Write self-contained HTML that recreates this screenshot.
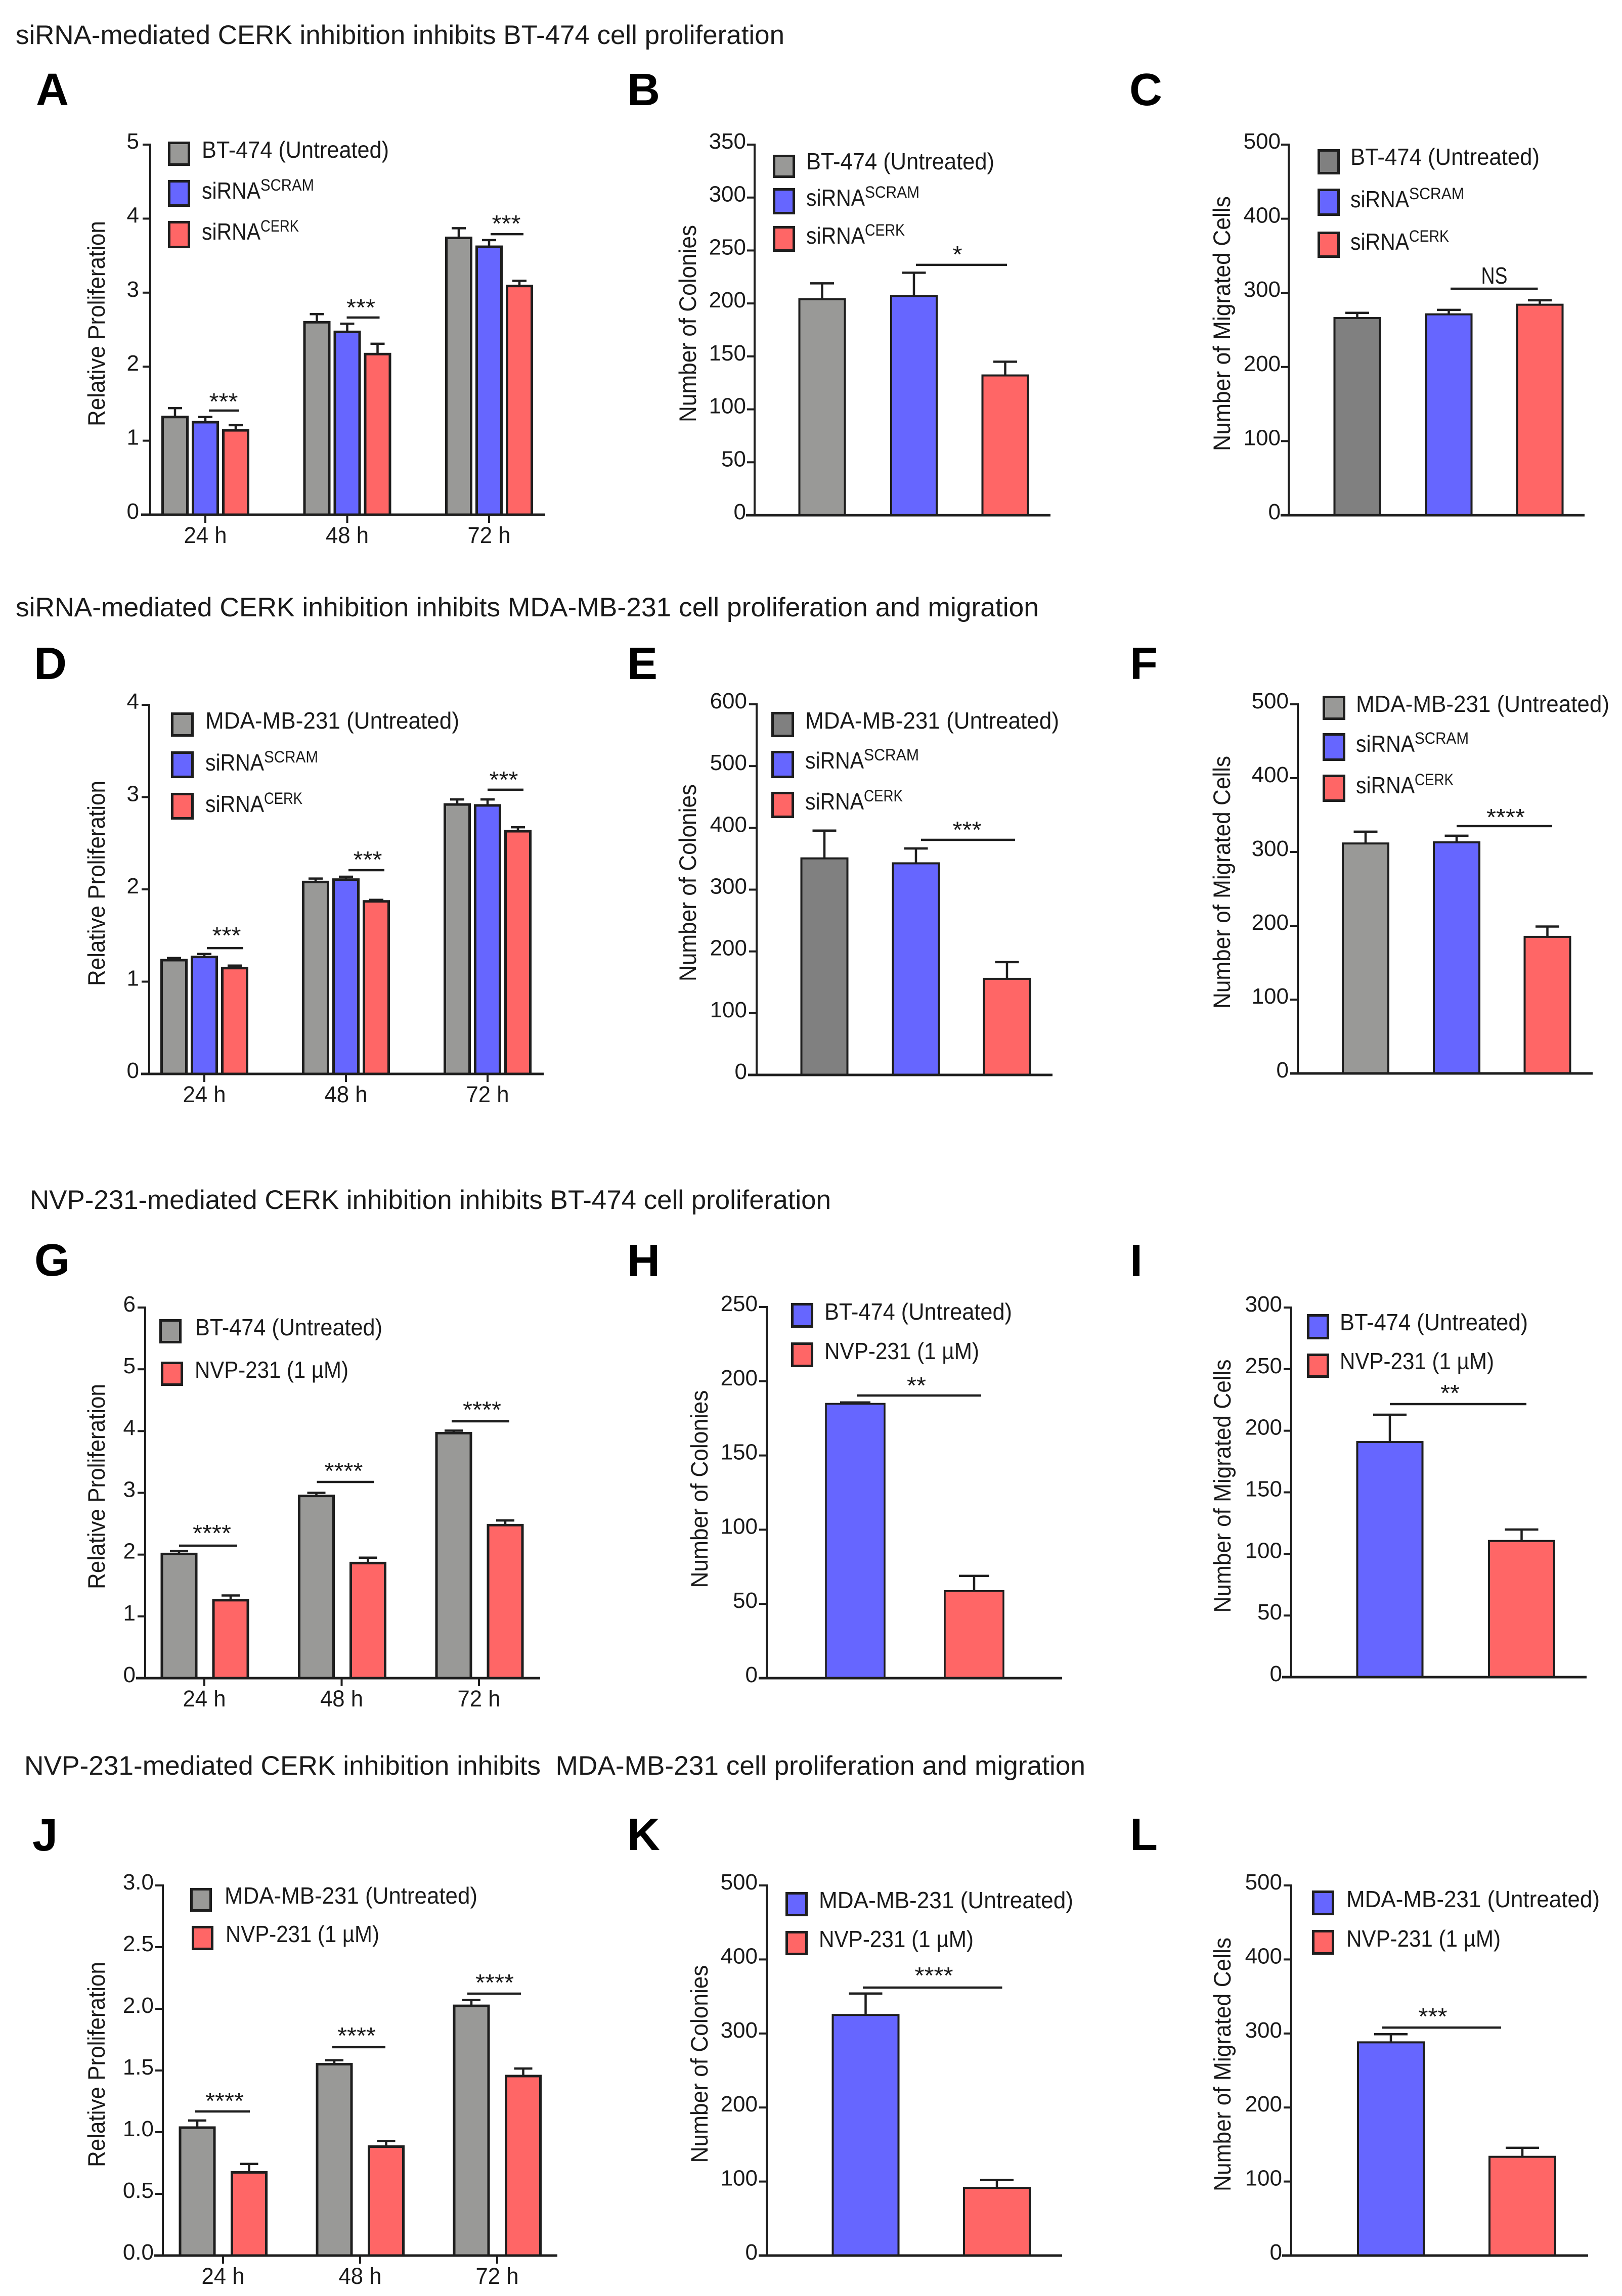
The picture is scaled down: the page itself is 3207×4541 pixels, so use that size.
<!DOCTYPE html>
<html lang="en">
<head>
<meta charset="utf-8">
<title>CERK inhibition figure</title>
<style>
html,body{margin:0;padding:0;background:#fff;}
svg{display:block;}
text{font-family:"Liberation Sans",sans-serif;fill:#1a1a1a;}
.sec{font-size:53px;}
.let{font-size:90px;font-weight:bold;fill:#000;}
</style>
</head>
<body>
<svg id="figure" xmlns="http://www.w3.org/2000/svg" width="3207" height="4541" viewBox="0 0 3207 4541">
<rect width="3207" height="4541" fill="#fff"/>
<text class="sec" x="31" y="87" textLength="1520" lengthAdjust="spacingAndGlyphs">siRNA-mediated CERK inhibition inhibits BT-474 cell proliferation</text>
<text class="sec" x="31" y="1219" textLength="2023" lengthAdjust="spacingAndGlyphs">siRNA-mediated CERK inhibition inhibits MDA-MB-231 cell proliferation and migration</text>
<text class="sec" x="59" y="2391" textLength="1584" lengthAdjust="spacingAndGlyphs">NVP-231-mediated CERK inhibition inhibits BT-474 cell proliferation</text>
<text class="sec" x="48" y="3510" textLength="2098" lengthAdjust="spacingAndGlyphs" xml:space="preserve">NVP-231-mediated CERK inhibition inhibits  MDA-MB-231 cell proliferation and migration</text>
<text class="let" x="71" y="208">A</text>
<text class="let" x="1240" y="208">B</text>
<text class="let" x="2233" y="208">C</text>
<text class="let" x="67" y="1343">D</text>
<text class="let" x="1240" y="1343">E</text>
<text class="let" x="2234" y="1343">F</text>
<text class="let" x="68" y="2523">G</text>
<text class="let" x="1240" y="2524">H</text>
<text class="let" x="2234" y="2524">I</text>
<text class="let" x="64" y="3660">J</text>
<text class="let" x="1240" y="3659">K</text>
<text class="let" x="2234" y="3659">L</text>
</svg>
<script>
// ---------- DATA ----------
const hours = ['24 h', '48 h', '72 h'];

const panelA_ticks = ['0', '1', '2', '3', '4', '5'];
const panelA_series = ['BT-474 (Untreated)', 'siRNA^SCRAM', 'siRNA^CERK'];
const panelA_means = [[1.32, 2.60, 3.74], [1.25, 2.47, 3.62], [1.14, 2.17, 3.09]];
const panelA_errors = [[0.12, 0.11, 0.13], [0.07, 0.11, 0.09], [0.07, 0.14, 0.07]];
const panelA_sigValues = [1.407, 2.664, 3.79];
const panelA_sigLabels = ['***', '***', '***'];

const panelB_ticks = ['0', '50', '100', '150', '200', '250', '300', '350'];
const panelB_series = ['BT-474 (Untreated)', 'siRNA^SCRAM', 'siRNA^CERK'];
const panelB_means = [[204], [207], [132]];
const panelB_errors = [[15], [22], [13]];
const panelB_sigValues = [236.4];
const panelB_sigLabels = ['*'];

const panelC_ticks = ['0', '100', '200', '300', '400', '500'];
const panelC_series = ['BT-474 (Untreated)', 'siRNA^SCRAM', 'siRNA^CERK'];
const panelC_means = [[266], [271], [284]];
const panelC_errors = [[7], [6], [6]];
const panelC_sigValues = [305.6];
const panelC_sigLabels = ['NS'];

const panelD_ticks = ['0', '1', '2', '3', '4'];
const panelD_series = ['MDA-MB-231 (Untreated)', 'siRNA^SCRAM', 'siRNA^CERK'];
const panelD_means = [[1.233, 2.08, 2.92], [1.268, 2.106, 2.91], [1.147, 1.87, 2.63]];
const panelD_errors = [[0.023, 0.037, 0.055], [0.032, 0.031, 0.065], [0.027, 0.016, 0.043]];
const panelD_sigValues = [1.364, 2.208, 3.08];
const panelD_sigLabels = ['***', '***', '***'];

const panelE_ticks = ['0', '100', '200', '300', '400', '500', '600'];
const panelE_series = ['MDA-MB-231 (Untreated)', 'siRNA^SCRAM', 'siRNA^CERK'];
const panelE_means = [[350.6], [342.6], [155.6]];
const panelE_errors = [[45], [24], [27]];
const panelE_sigValues = [380.6];
const panelE_sigLabels = ['***'];

const panelF_ticks = ['0', '100', '200', '300', '400', '500'];
const panelF_series = ['MDA-MB-231 (Untreated)', 'siRNA^SCRAM', 'siRNA^CERK'];
const panelF_means = [[311.5], [313], [185]];
const panelF_errors = [[16], [9], [14]];
const panelF_sigValues = [335];
const panelF_sigLabels = ['****'];

const panelG_ticks = ['0', '1', '2', '3', '4', '5', '6'];
const panelG_series = ['BT-474 (Untreated)', 'NVP-231 (1 µM)'];
const panelG_means = [[2.01, 2.95, 3.966], [1.262, 1.863, 2.477]];
const panelG_errors = [[0.046, 0.05, 0.041], [0.076, 0.087, 0.076]];
const panelG_sigValues = [2.145, 3.176, 4.158];
const panelG_sigLabels = ['****', '****', '****'];

const panelH_ticks = ['0', '50', '100', '150', '200', '250'];
const panelH_series = ['BT-474 (Untreated)', 'NVP-231 (1 µM)'];
const panelH_means = [[184.8], [58.7]];
const panelH_errors = [[0.9], [10.2]];
const panelH_sigValues = [190.4];
const panelH_sigLabels = ['**'];

const panelI_ticks = ['0', '50', '100', '150', '200', '250', '300'];
const panelI_series = ['BT-474 (Untreated)', 'NVP-231 (1 µM)'];
const panelI_means = [[190.8], [110.5]];
const panelI_errors = [[22.2], [9.3]];
const panelI_sigValues = [221.6];
const panelI_sigLabels = ['**'];

const panelJ_ticks = ['0.0', '0.5', '1.0', '1.5', '2.0', '2.5', '3.0'];
const panelJ_series = ['MDA-MB-231 (Untreated)', 'NVP-231 (1 µM)'];
const panelJ_means = [[1.037, 1.551, 2.024], [0.674, 0.883, 1.455]];
const panelJ_errors = [[0.058, 0.032, 0.047], [0.069, 0.046, 0.061]];
const panelJ_sigValues = [1.168, 1.689, 2.123];
const panelJ_sigLabels = ['****', '****', '****'];

const panelK_ticks = ['0', '100', '200', '300', '400', '500'];
const panelK_series = ['MDA-MB-231 (Untreated)', 'NVP-231 (1 µM)'];
const panelK_means = [[325], [91.5]];
const panelK_errors = [[29], [10.5]];
const panelK_sigValues = [362];
const panelK_sigLabels = ['****'];

const panelL_ticks = ['0', '100', '200', '300', '400', '500'];
const panelL_series = ['MDA-MB-231 (Untreated)', 'NVP-231 (1 µM)'];
const panelL_means = [[288], [133.4]];
const panelL_errors = [[11], [12.2]];
const panelL_sigValues = [308];
const panelL_sigLabels = ['***'];

// ---------- STYLE ----------
const GRAY = '#999997', DGRAY = '#808080', BLUE = '#6666ff', RED = '#ff6666', INK = '#1e1e1e';
const root = document.getElementById('figure');

function add(parent, tag, attrs, txt) {
  const el = document.createElementNS('http://www.w3.org/2000/svg', tag);
  for (const k in attrs) el.setAttribute(k, attrs[k]);
  if (txt !== undefined) el.textContent = txt;
  parent.appendChild(el);
  return el;
}

function renderPanel(id, d, L) {
  const g = add(root, 'g', {});
  
  

  const maxV = parseFloat(d.ticks[d.ticks.length - 1]);
  const yScale = v => L.zero - v * (L.zero - L.top) / maxV;
  const xGroup = i => L.groupX0 + i * L.groupStep;

  // y-axis title
  const yt = add(g, 'text', {x: L.ylabelX + 16, y: L.ylabelY, 'font-size': 47, 'text-anchor': 'middle',
    textLength: L.ylabelLen, lengthAdjust: 'spacingAndGlyphs',
    transform: 'rotate(-90 ' + (L.ylabelX + 16) + ' ' + L.ylabelY + ')'}, L.ylabel);
  
  

  // bars and error bars
  d.means.forEach((seriesVals, s) => {
    seriesVals.forEach((v, c) => {
      const cx = xGroup(c) + L.offsets[s];
      const yTop = yScale(v);
      const yErr = yScale(v + d.errors[s][c]);
      const err = add(g, 'path', {d: 'M' + cx + ' ' + yTop + 'V' + yErr + 'M' + (cx - L.cap / 2) + ' ' + yErr + 'H' + (cx + L.cap / 2),
        fill: 'none', stroke: INK, 'stroke-width': 4.5});
      
      
      const bar = add(g, 'rect', {x: cx - L.barW / 2, y: yTop, width: L.barW, height: L.zero - yTop,
        fill: L.colors[s], stroke: INK, 'stroke-width': L.barStroke});
      
      
    });
  });

  // y axis and ticks
  const yAxis = add(g, 'line', {x1: L.axisX, x2: L.axisX, y1: L.top - 2, y2: L.zero, stroke: INK, 'stroke-width': 4});
  
  
  d.ticks.forEach(t => {
    const y = yScale(parseFloat(t));
    const tk = add(g, 'line', {x1: L.axisX - 15, x2: L.axisX, y1: y, y2: y, stroke: INK, 'stroke-width': 4});
    
    
    const lb = add(g, 'text', {x: L.tickRight, y: y + 8, 'font-size': 44, 'text-anchor': 'end'}, t);
    
    
  });

  // x axis, ticks
  const xAxis = add(g, 'line', {x1: L.xStart, x2: L.xEnd, y1: L.zero, y2: L.zero, stroke: INK, 'stroke-width': 5});
  
  
  if (d.categories) {
    d.categories.forEach((c, i) => {
      const x = xGroup(i);
      const tk = add(g, 'line', {x1: x, x2: x, y1: L.zero, y2: L.zero + 16, stroke: INK, 'stroke-width': 4});
      
      
      const lb = add(g, 'text', {x: x, y: L.zero + 56, 'font-size': 45, 'text-anchor': 'middle', textLength: 85, lengthAdjust: 'spacingAndGlyphs'}, c);
      
      
    });
  }

  // significance brackets
  d.sigValues.forEach((v, i) => {
    const b = L.brackets[i];
    const x0 = xGroup(i);
    const y = yScale(v);
    const ln = add(g, 'line', {x1: x0 + b[0], x2: x0 + b[1], y1: y, y2: y, stroke: INK, 'stroke-width': 4.5});
    
    
    const label = d.sigLabels[i];
    let tx;
    if (label === 'NS') {
      tx = add(g, 'text', {x: x0 + b[2], y: y - 10, 'font-size': 46, 'text-anchor': 'middle', textLength: 52, lengthAdjust: 'spacingAndGlyphs'}, label);
    } else {
      tx = add(g, 'text', {x: x0 + b[2], y: y - b[3] + 22, 'font-size': 46, 'text-anchor': 'middle',
        textLength: label.length * 19, lengthAdjust: 'spacingAndGlyphs'}, label);
    }
    
    
  });

  // legend
  d.series.forEach((name, i) => {
    const r = L.legend[i];
    const item = add(g, 'g', {});
    
    
    const sw = add(item, 'rect', {x: r.sx + 2.5, y: r.sy + 2.5, width: L.swatchW - 5, height: r.sh - 5,
      fill: L.colors[i], stroke: INK, 'stroke-width': 5});
    
    
    const parts = name.split('^');
    const t1 = add(item, 'text', {x: r.tx, y: r.base, 'font-size': 46,
      textLength: parts[1] ? 116 : r.w, lengthAdjust: 'spacingAndGlyphs'}, parts[0]);
    
    
    if (parts[1]) {
      const t2 = add(item, 'text', {x: r.tx + 116, y: r.base - 16, 'font-size': 32,
        textLength: r.w, lengthAdjust: 'spacingAndGlyphs'}, parts[1]);
      
      
    }
  });
}

const RP = 'Relative Proliferation', NC = 'Number of Colonies', NM = 'Number of Migrated Cells';

renderPanel('a',
  {categories: hours, ticks: panelA_ticks, series: panelA_series, means: panelA_means, errors: panelA_errors, sigValues: panelA_sigValues, sigLabels: panelA_sigLabels},
  {axisX: 297, top: 286, zero: 1018, xStart: 279, xEnd: 1078, tickRight: 275, groupX0: 406, groupStep: 280.5,
   offsets: [-60, 0, 60], barW: 49, barStroke: 5, cap: 28, colors: [GRAY, BLUE, RED],
   ylabel: RP, ylabelX: 191, ylabelY: 640, ylabelLen: 406,
   brackets: [[7, 67, 36, 24], [-1, 64, 27, 26], [3, 68, 34, 27]], swatchW: 44,
   legend: [{sx: 332, sy: 280, sh: 48, tx: 399, base: 312, w: 370}, {sx: 332, sy: 356, sh: 53, tx: 399, base: 393, w: 106}, {sx: 332, sy: 437, sh: 54, tx: 399, base: 474, w: 76}]});

renderPanel('b',
  {ticks: panelB_ticks, series: panelB_series, means: panelB_means, errors: panelB_errors, sigValues: panelB_sigValues, sigLabels: panelB_sigLabels},
  {axisX: 1492, top: 286, zero: 1019, xStart: 1475, xEnd: 2077, tickRight: 1475, groupX0: 1807, groupStep: 0,
   offsets: [-181.5, 0, 180.5], barW: 90, barStroke: 4, cap: 47, colors: [GRAY, BLUE, RED],
   ylabel: NC, ylabelX: 1360, ylabelY: 640, ylabelLen: 390,
   brackets: [[4, 184, 86, 27]], swatchW: 44,
   legend: [{sx: 1528, sy: 306, sh: 46, tx: 1594, base: 335, w: 372}, {sx: 1528, sy: 372, sh: 52, tx: 1594, base: 407, w: 108}, {sx: 1528, sy: 447, sh: 51, tx: 1594, base: 482, w: 79}]});

renderPanel('c',
  {ticks: panelC_ticks, series: panelC_series, means: panelC_means, errors: panelC_errors, sigValues: panelC_sigValues, sigLabels: panelC_sigLabels},
  {axisX: 2548, top: 286, zero: 1019, xStart: 2532, xEnd: 3133, tickRight: 2532, groupX0: 2864.5, groupStep: 0,
   offsets: [-181, 0, 180], barW: 90, barStroke: 4, cap: 47, colors: [DGRAY, BLUE, RED],
   ylabel: NM, ylabelX: 2416, ylabelY: 640, ylabelLen: 504,
   brackets: [[3.5, 176, 90, 25]], swatchW: 44,
   legend: [{sx: 2605, sy: 295, sh: 50, tx: 2670, base: 326, w: 374}, {sx: 2605, sy: 373, sh: 54, tx: 2670, base: 410, w: 109}, {sx: 2605, sy: 458, sh: 52, tx: 2670, base: 494, w: 79}]});

renderPanel('d',
  {categories: hours, ticks: panelD_ticks, series: panelD_series, means: panelD_means, errors: panelD_errors, sigValues: panelD_sigValues, sigLabels: panelD_sigLabels},
  {axisX: 295, top: 1394, zero: 2124, xStart: 279, xEnd: 1075, tickRight: 275, groupX0: 404, groupStep: 280,
   offsets: [-60, 0, 60], barW: 49, barStroke: 5, cap: 28, colors: [GRAY, BLUE, RED],
   ylabel: RP, ylabelX: 191, ylabelY: 1747, ylabelLen: 406,
   brackets: [[5, 77, 44, 31], [5, 76, 43, 27], [0, 71, 32, 26]], swatchW: 45,
   legend: [{sx: 338, sy: 1409, sh: 48, tx: 406, base: 1441, w: 502}, {sx: 338, sy: 1486, sh: 53, tx: 406, base: 1524, w: 107}, {sx: 338, sy: 1568, sh: 53, tx: 406, base: 1606, w: 76}]});

renderPanel('e',
  {ticks: panelE_ticks, series: panelE_series, means: panelE_means, errors: panelE_errors, sigValues: panelE_sigValues, sigLabels: panelE_sigLabels},
  {axisX: 1496, top: 1393, zero: 2126, xStart: 1479, xEnd: 2081, tickRight: 1477, groupX0: 1811, groupStep: 0,
   offsets: [-181, 0, 180], barW: 91, barStroke: 4, cap: 47, colors: [DGRAY, BLUE, RED],
   ylabel: NC, ylabelX: 1360, ylabelY: 1746, ylabelLen: 390,
   brackets: [[10, 196, 101, 26]], swatchW: 45,
   legend: [{sx: 1525, sy: 1408, sh: 50, tx: 1592, base: 1441, w: 502}, {sx: 1525, sy: 1485, sh: 54, tx: 1592, base: 1520, w: 109}, {sx: 1525, sy: 1566, sh: 52, tx: 1592, base: 1601, w: 77}]});

renderPanel('f',
  {ticks: panelF_ticks, series: panelF_series, means: panelF_means, errors: panelF_errors, sigValues: panelF_sigValues, sigLabels: panelF_sigLabels},
  {axisX: 2566, top: 1393, zero: 2123, xStart: 2551, xEnd: 3149, tickRight: 2548, groupX0: 2880, groupStep: 0,
   offsets: [-180, 0, 179.5], barW: 90, barStroke: 4, cap: 47, colors: [GRAY, BLUE, RED],
   ylabel: NM, ylabelX: 2416, ylabelY: 1745, ylabelLen: 500,
   brackets: [[0, 189, 97, 24]], swatchW: 45,
   legend: [{sx: 2615, sy: 1376, sh: 48, tx: 2681, base: 1408, w: 501}, {sx: 2615, sy: 1450, sh: 55, tx: 2681, base: 1487, w: 107}, {sx: 2615, sy: 1532, sh: 54, tx: 2681, base: 1569, w: 77}]});

renderPanel('g',
  {categories: hours, ticks: panelG_ticks, series: panelG_series, means: panelG_means, errors: panelG_errors, sigValues: panelG_sigValues, sigLabels: panelG_sigLabels},
  {axisX: 287, top: 2586, zero: 3319, xStart: 269, xEnd: 1068, tickRight: 268, groupX0: 404, groupStep: 271.5,
   offsets: [-50, 52], barW: 68, barStroke: 5, cap: 36, colors: [GRAY, RED],
   ylabel: RP, ylabelX: 191, ylabelY: 2940, ylabelLen: 406,
   brackets: [[-50, 65, 15, 31], [-49, 64, 4, 28], [-54, 60, 6, 29]], swatchW: 44,
   legend: [{sx: 315, sy: 2609, sh: 48, tx: 386, base: 2641, w: 370}, {sx: 318, sy: 2693, sh: 48, tx: 385, base: 2725, w: 304}]});

renderPanel('h',
  {ticks: panelH_ticks, series: panelH_series, means: panelH_means, errors: panelH_errors, sigValues: panelH_sigValues, sigLabels: panelH_sigLabels},
  {axisX: 1516, top: 2585, zero: 3319, xStart: 1500, xEnd: 2100, tickRight: 1498, groupX0: 1691, groupStep: 0,
   offsets: [0, 235], barW: 116, barStroke: 3.5, cap: 60, colors: [BLUE, RED],
   ylabel: NC, ylabelX: 1383, ylabelY: 2945, ylabelLen: 391,
   brackets: [[3, 249, 121, 26]], swatchW: 44,
   legend: [{sx: 1564, sy: 2577, sh: 49, tx: 1630, base: 2610, w: 371}, {sx: 1564, sy: 2655, sh: 49, tx: 1630, base: 2688, w: 306}]});

renderPanel('i',
  {ticks: panelI_ticks, series: panelI_series, means: panelI_means, errors: panelI_errors, sigValues: panelI_sigValues, sigLabels: panelI_sigLabels},
  {axisX: 2553, top: 2586, zero: 3317, xStart: 2535, xEnd: 3137, tickRight: 2535, groupX0: 2748, groupStep: 0,
   offsets: [0, 260.5], barW: 129, barStroke: 4, cap: 66, colors: [BLUE, RED],
   ylabel: NM, ylabelX: 2417, ylabelY: 2939, ylabelLen: 501,
   brackets: [[0, 270, 119, 28]], swatchW: 44,
   legend: [{sx: 2584, sy: 2599, sh: 50, tx: 2649, base: 2631, w: 372}, {sx: 2584, sy: 2677, sh: 48, tx: 2649, base: 2708, w: 305}]});

renderPanel('j',
  {categories: hours, ticks: panelJ_ticks, series: panelJ_series, means: panelJ_means, errors: panelJ_errors, sigValues: panelJ_sigValues, sigLabels: panelJ_sigLabels},
  {axisX: 322, top: 3729, zero: 4461, xStart: 305, xEnd: 1102, tickRight: 304, groupX0: 441, groupStep: 271,
   offsets: [-51, 51.5], barW: 68, barStroke: 5, cap: 36, colors: [GRAY, RED],
   ylabel: RP, ylabelX: 191, ylabelY: 4083, ylabelLen: 406,
   brackets: [[-55, 53, 3, 27], [-55, 50, -7, 29], [-59, 47, -5, 28]], swatchW: 43,
   legend: [{sx: 376, sy: 3734, sh: 47, tx: 444, base: 3765, w: 500}, {sx: 379, sy: 3809, sh: 48, tx: 446, base: 3841, w: 304}]});

renderPanel('k',
  {ticks: panelK_ticks, series: panelK_series, means: panelK_means, errors: panelK_errors, sigValues: panelK_sigValues, sigLabels: panelK_sigLabels},
  {axisX: 1516, top: 3729, zero: 4461, xStart: 1500, xEnd: 2100, tickRight: 1498, groupX0: 1711.5, groupStep: 0,
   offsets: [0, 259.5], barW: 130, barStroke: 4, cap: 66, colors: [BLUE, RED],
   ylabel: NC, ylabelX: 1383, ylabelY: 4082, ylabelLen: 391,
   brackets: [[-5.5, 270, 135, 30]], swatchW: 44,
   legend: [{sx: 1553, sy: 3742, sh: 48, tx: 1619, base: 3774, w: 503}, {sx: 1553, sy: 3819, sh: 48, tx: 1619, base: 3851, w: 306}]});

renderPanel('l',
  {ticks: panelL_ticks, series: panelL_series, means: panelL_means, errors: panelL_errors, sigValues: panelL_sigValues, sigLabels: panelL_sigLabels},
  {axisX: 2553, top: 3729, zero: 4461, xStart: 2535, xEnd: 3140, tickRight: 2535, groupX0: 2750, groupStep: 0,
   offsets: [0, 260], barW: 130, barStroke: 4, cap: 66, colors: [BLUE, RED],
   ylabel: NM, ylabelX: 2417, ylabelY: 4083, ylabelLen: 502,
   brackets: [[-17, 218, 83, 28]], swatchW: 44,
   legend: [{sx: 2594, sy: 3739, sh: 49, tx: 2662, base: 3772, w: 501}, {sx: 2594, sy: 3817, sh: 49, tx: 2662, base: 3850, w: 305}]});
</script>
</body>
</html>
